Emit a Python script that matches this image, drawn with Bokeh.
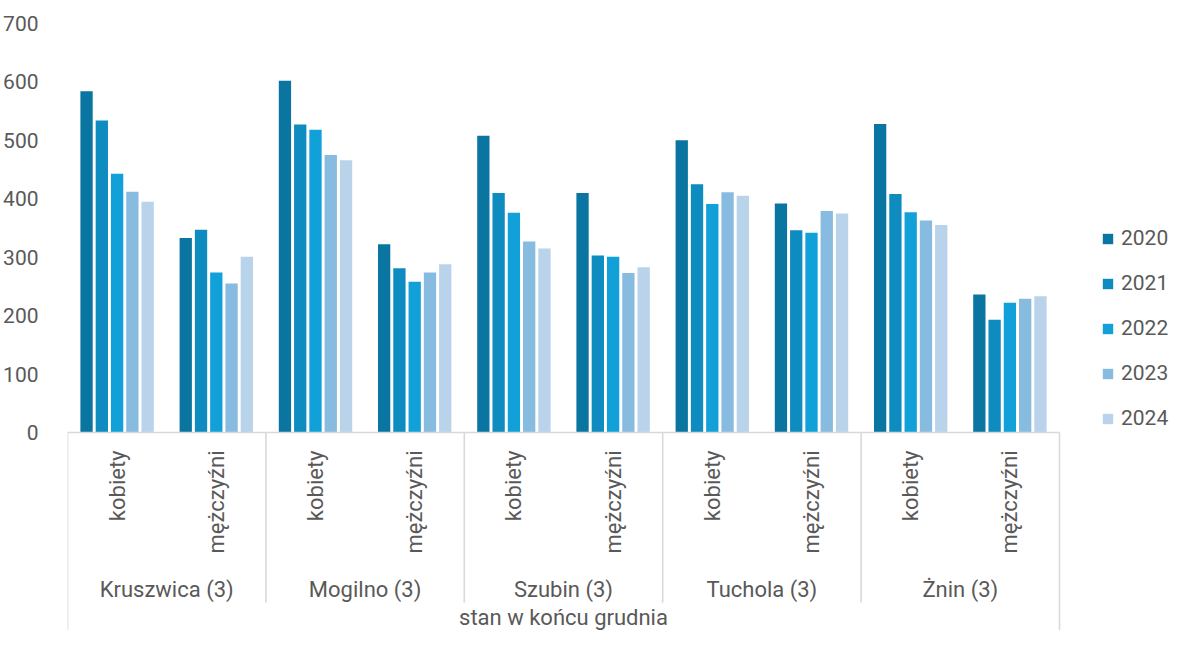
from bokeh.plotting import figure
from bokeh.models import ColumnDataSource, FixedTicker, Legend, LegendItem, Range1d
from bokeh.core.properties import value
from bokeh.embed import file_html
from bokeh.resources import INLINE

# ---------------- data ----------------
cities = ["Kruszwica (3)", "Mogilno (3)", "Szubin (3)", "Tuchola (3)", "Żnin (3)"]
sexes = ["kobiety", "mężczyźni"]
years = ["2020", "2021", "2022", "2023", "2024"]
axis_title = "stan w końcu grudnia"

# order: (city, sex) pairs -> Kruszwica kobiety, Kruszwica mężczyźni, Mogilno kobiety, ...
v2020 = [584, 333, 602, 322, 508, 410, 500, 392, 528, 236]
v2021 = [534, 347, 527, 281, 410, 303, 425, 346, 408, 193]
v2022 = [443, 274, 518, 258, 376, 301, 391, 342, 377, 222]
v2023 = [412, 255, 475, 274, 327, 273, 411, 379, 363, 229]
v2024 = [395, 301, 466, 288, 315, 283, 405, 375, 355, 233]
series = [v2020, v2021, v2022, v2023, v2024]
y_ticks = [0, 100, 200, 300, 400, 500, 600, 700]

colors = ["#0B75A2", "#0E8BBF", "#12A0D8", "#88BBE0", "#B8D3EA"]

# ---------------- layout ----------------
FONT = "Roboto"
TXT = "#595959"
GRID = "#D9D9D9"
W, H = 1170, 630
LEFT, TOP = 67, 23
ORIGIN_Y = 1                    # observed page offset of the figure
PX_X = 99.2                     # pixels per category unit
PX_Y = 409.0 / 700.0            # pixels per value unit
frame_w = W - LEFT
frame_h = H - TOP
x_end = frame_w / PX_X
y_start = 700 - frame_h / PX_Y
base_img = ORIGIN_Y + TOP + 409  # image row of value 0
n_groups = len(cities) * len(sexes)

p = figure(width=W, height=H, output_backend="svg", toolbar_location=None,
           x_range=Range1d(0, x_end), y_range=Range1d(y_start, 700),
           x_axis_location=None, min_border_left=LEFT, min_border_top=TOP,
           min_border_bottom=0, min_border_right=0)
p.outline_line_color = None
p.xgrid.visible = False
p.ygrid.visible = False
p.background_fill_color = "white"
p.border_fill_color = "white"

yax = p.yaxis[0]
yax.ticker = FixedTicker(ticks=y_ticks)
yax.axis_line_color = None
yax.major_tick_line_color = None
yax.minor_tick_line_color = None
yax.major_label_standoff = 23
yax.major_label_text_font = FONT
yax.major_label_text_font_size = "21px"
yax.major_label_text_color = TXT

# ---------------- bars ----------------
pitch = 0.154
bw = 0.124
centers = [i + 0.5 for i in range(n_groups)]
items = []
for k, (yr, vals, col) in enumerate(zip(years, series, colors)):
    src = ColumnDataSource(dict(x=[c + (k - 2) * pitch for c in centers], top=vals))
    r = p.vbar(x="x", top="top", width=bw, bottom=0, source=src,
               fill_color=col, line_color=None)
    items.append(LegendItem(label=yr, renderers=[r]))

# ---------------- category axis (Excel-like) ----------------
def img_to_val(row):
    return -(row - base_img) / PX_Y

y_sep = img_to_val(603)
y_sex = img_to_val(451)
y_city = img_to_val(590)
y_title = img_to_val(630)

# baseline
p.segment(x0=[0], y0=[0], x1=[n_groups], y1=[0], line_color=GRID, line_width=1.6)
# separators between cities
inner = [2 * i for i in range(1, len(cities))]
p.segment(x0=inner, y0=[0] * len(inner), x1=inner, y1=[y_sep] * len(inner),
          line_color=GRID, line_width=1.6)
# outer separators
p.segment(x0=[0, n_groups], y0=[0, 0], x1=[0, n_groups], y1=[y_start, y_start],
          line_color=GRID, line_width=1.6)

sex_src = ColumnDataSource(dict(x=centers, y=[y_sex] * n_groups,
                                t=[sexes[i % 2] for i in range(n_groups)]))
p.text(x="x", y="y", text="t", source=sex_src, angle=1.5707963,
       text_align="right", text_baseline="middle",
       text_font=value(FONT), text_font_size=value("22px"), text_color=TXT)

city_src = ColumnDataSource(dict(x=[2 * i + 1 for i in range(len(cities))],
                                 y=[y_city] * len(cities), t=cities))
p.text(x="x", y="y", text="t", source=city_src,
       text_align="center", text_baseline="middle",
       text_font=value(FONT), text_font_size=value("22px"), text_color=TXT)

p.text(x=[n_groups / 2], y=[y_title], text=[axis_title],
       text_align="center", text_baseline="bottom",
       text_font=value(FONT), text_font_size=value("22px"), text_color=TXT)

# ---------------- legend ----------------
legend = Legend(items=items, location=(1034, 200), orientation="vertical",
                glyph_width=13, glyph_height=13, label_height=24, spacing=21,
                label_standoff=7, padding=0, margin=0,
                border_line_color=None, background_fill_alpha=0,
                label_text_font=FONT, label_text_font_size="21px",
                label_text_color=TXT)
p.add_layout(legend)

open("out.html", "w").write(file_html(p, INLINE))
